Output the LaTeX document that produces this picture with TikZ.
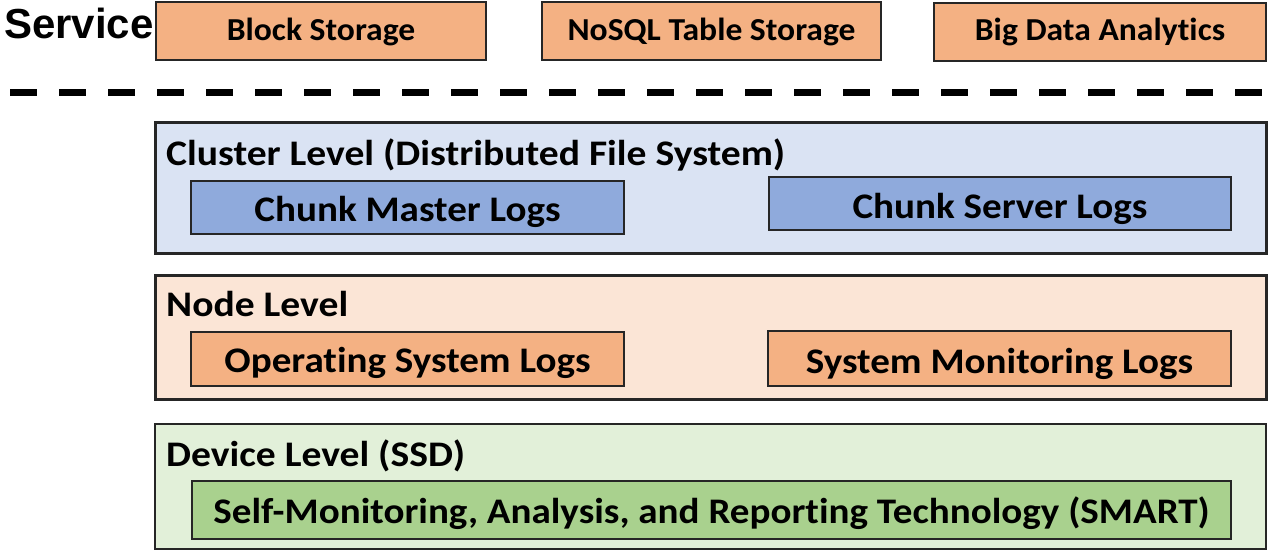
\documentclass[tikz,border=0pt]{standalone}
\usepackage{fontspec}
\setmainfont{Carlito}[Ligatures=NoCommon]
\newfontfamily\arialfont{Liberation Sans}
\newfontfamily\lvlfont{Carlito}[Ligatures=NoCommon,FakeStretch=1.10]
\newfontfamily\inrfont{Carlito}[Ligatures=NoCommon,FakeStretch=1.085]
\newfontfamily\svcfont{Carlito}[Ligatures=NoCommon,FakeStretch=1.05]
\definecolor{svcorange}{HTML}{F4B183}
\definecolor{clusterbg}{HTML}{DAE3F3}
\definecolor{clusterin}{HTML}{8FAADC}
\definecolor{nodebg}{HTML}{FBE5D6}
\definecolor{devbg}{HTML}{E2F0D9}
\definecolor{devin}{HTML}{A9D18E}
\definecolor{edgegray}{HTML}{262626}
\begin{document}
\begin{tikzpicture}[x=1pt,y=-1pt,
  svcbox/.style={draw=edgegray,line width=2.5pt,fill=svcorange},
  outerbox/.style={draw=edgegray,line width=3pt},
  innerbox/.style={draw=edgegray,line width=2pt},
  svctext/.style={anchor=base,inner sep=0pt,font=\svcfont\fontsize{32}{36}\selectfont\bfseries},
  bigtext/.style={anchor=base,inner sep=0pt,font=\inrfont\fontsize{36}{40}\selectfont\bfseries},
  leveltext/.style={anchor=base west,inner sep=0pt,font=\lvlfont\fontsize{36}{40}\selectfont\bfseries}]
\useasboundingbox (0,0) rectangle (1268,551);
% service row
\node[anchor=base west,inner sep=0pt,font=\arialfont\fontsize{42}{44}\selectfont\bfseries] (svc) at (4,38) {Service};
\draw[svcbox] (156,2) rectangle (486,60);
\node[svctext] (bst) at (321,41) {Block Storage};
\draw[svcbox] (542,2) rectangle (881,60);
\node[svctext] (nst) at (711.5,41) {NoSQL Table Storage};
\draw[svcbox] (934,3) rectangle (1266,61);
\node[svctext] (bdt) at (1100,41) {Big Data Analytics};
% separator
\coordinate (sepL) at (10,92.5);
\coordinate (sepR) at (1268,92.5);
\draw[line width=7pt,dash pattern=on 27pt off 22pt] (sepL) -- (sepR);
% cluster level
\draw[outerbox,fill=clusterbg] (155,122) rectangle (1266,253);
\node[leveltext] (cl) at (166,165) {Cluster Level (Distributed File System)};
\draw[innerbox,fill=clusterin] (191,181) rectangle (624,234);
\node[bigtext] (cm) at (407.5,221) {Chunk Master Logs};
\draw[innerbox,fill=clusterin] (769,177) rectangle (1231,230);
\node[bigtext] (cs) at (1000,218) {Chunk Server Logs};
% node level
\draw[outerbox,fill=nodebg] (155,275) rectangle (1266,399);
\node[leveltext] (nl) at (166,316) {Node Level};
\draw[innerbox,fill=svcorange] (191,332) rectangle (624,386);
\node[bigtext] (os) at (407.5,372) {Operating System Logs};
\draw[innerbox,fill=svcorange] (768,331) rectangle (1231,386);
\node[bigtext] (sm) at (999.5,373) {System Monitoring Logs};
% device level
\draw[draw=edgegray,line width=2pt,fill=devbg] (155,424) rectangle (1266,549);
\node[leveltext] (dl) at (166,466) {Device Level (SSD)};
\draw[draw=edgegray,line width=1.5pt,fill=devin] (192,481) rectangle (1231,539);
\node[bigtext] (sm2) at (711.5,523) {Self-Monitoring, Analysis, and Reporting Technology (SMART)};
\end{tikzpicture}
\end{document}
